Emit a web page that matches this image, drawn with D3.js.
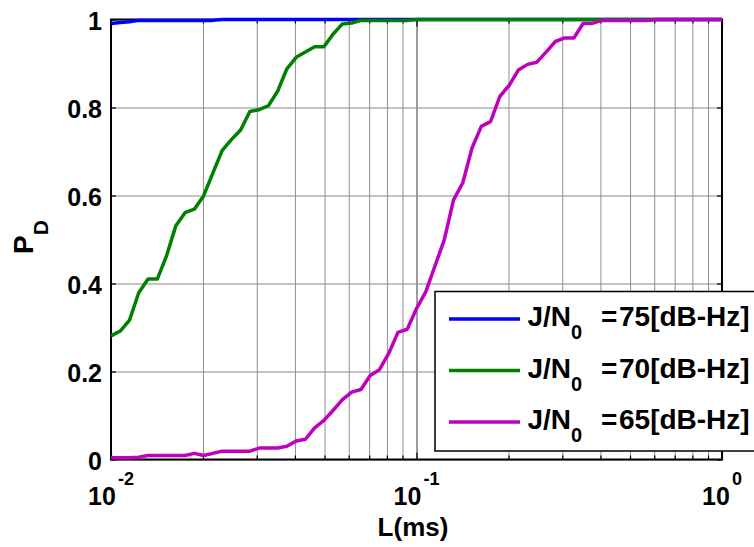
<!DOCTYPE html>
<html>
<head>
<meta charset="utf-8">
<script src="https://cdn.jsdelivr.net/npm/d3@7/dist/d3.min.js"></script>
<style>
  html, body { margin: 0; padding: 0; background: #fff; }
  svg { display: block; }
  text { font-family: "Liberation Sans", Arial, sans-serif; font-weight: bold; fill: #000; }
</style>
</head>
<body>
<svg id="chart" width="754" height="547"></svg>
<script>
// Integration length L (ms), log-spaced samples
const L = [
  0.01, 0.010723, 0.011498, 0.012328, 0.013219, 0.014175, 0.015199, 0.016298, 0.017475, 0.018738,
  0.020092, 0.021544, 0.023101, 0.024771, 0.026561, 0.02848, 0.030539, 0.032745, 0.035112, 0.037649,
  0.04037, 0.043288, 0.046416, 0.04977, 0.053367, 0.057224, 0.061359, 0.065793, 0.070548, 0.075646,
  0.081113, 0.086975, 0.09326, 0.1, 0.10723, 0.11498, 0.12328, 0.13219, 0.14175, 0.15199,
  0.16298, 0.17475, 0.18738, 0.20092, 0.21544, 0.23101, 0.24771, 0.26561, 0.2848, 0.30539,
  0.32745, 0.35112, 0.37649, 0.4037, 0.43288, 0.46416, 0.4977, 0.53367, 0.57224, 0.61359,
  0.65793, 0.70548, 0.75646, 0.81113, 0.86975, 0.9326, 1
];

// Detection probability for each jammer-to-noise density ratio
const pd75 = [
  0.991, 0.993, 0.995, 0.998, 0.998, 0.998, 0.998, 0.998, 0.998, 0.998,
  0.998, 0.998, 1, 1, 1, 1, 1, 1, 1, 1,
  1, 1, 1, 1, 1, 1, 1, 1, 1, 1,
  1, 1, 1, 1, 1, 1, 1, 1, 1, 1,
  1, 1, 1, 1, 1, 1, 1, 1, 1, 1,
  1, 1, 1, 1, 1, 1, 1, 1, 1, 1,
  1, 1, 1, 1, 1, 1, 1
];
const pd70 = [
  0.281, 0.292, 0.317, 0.379, 0.410, 0.410, 0.463, 0.531, 0.561, 0.569,
  0.599, 0.651, 0.702, 0.727, 0.749, 0.791, 0.795, 0.804, 0.837, 0.888,
  0.914, 0.926, 0.938, 0.938, 0.967, 0.990, 0.992, 0.998, 0.998, 0.998,
  0.998, 0.998, 0.998, 1, 1, 1, 1, 1, 1, 1,
  1, 1, 1, 1, 1, 1, 1, 1, 1, 1,
  1, 1, 1, 1, 1, 1, 1, 1, 1, 1,
  1, 1, 1, 1, 1, 1, 1
];
const pd65 = [
  0.004, 0.004, 0.004, 0.005, 0.009, 0.009, 0.009, 0.009, 0.009, 0.014,
  0.009, 0.014, 0.019, 0.019, 0.019, 0.019, 0.026, 0.026, 0.026, 0.030,
  0.042, 0.046, 0.072, 0.089, 0.112, 0.136, 0.153, 0.159, 0.191, 0.204,
  0.241, 0.289, 0.296, 0.343, 0.381, 0.440, 0.499, 0.590, 0.629, 0.708,
  0.757, 0.768, 0.825, 0.850, 0.885, 0.898, 0.903, 0.926, 0.950, 0.958,
  0.958, 0.991, 0.991, 0.998, 0.998, 0.998, 0.998, 0.998, 0.998, 1,
  1, 1, 1, 1, 1, 1, 1
];

const seriesNames = ["75", "70", "65"];
const seriesColors = ["#0000ff", "#008000", "#bf00bf"];
const seriesValues = [pd75, pd70, pd65];

// Axis ticks
const xMajor = [0.01, 0.1, 1];
const xMajorExp = ["-2", "-1", "0"];
const yTicks = [0, 0.2, 0.4, 0.6, 0.8, 1];
const yTickLabels = ["0", "0.2", "0.4", "0.6", "0.8", "1"];

const svg = d3.select("#chart");
const plotLeft = 111, plotRight = 722, plotTop = 19.5, plotBottom = 459.5;

const x = d3.scaleLog().domain([0.01, 1]).range([plotLeft, plotRight]);
const y = d3.scaleLinear().domain([0, 1]).range([plotBottom, plotTop]);

const xMinor = x.ticks().filter(v => !xMajor.some(m => Math.abs(m - v) < 1e-9));

// Grid lines
const grid = svg.append("g");
grid.append("g")
  .attr("transform", `translate(0,${plotBottom})`)
  .call(d3.axisBottom(x).tickValues(xMinor).tickSize(-(plotBottom - plotTop)).tickFormat(""))
  .call(g => g.select(".domain").remove())
  .call(g => g.selectAll("line").attr("stroke", "#8f8f8f").attr("stroke-width", 1));
grid.append("g")
  .attr("transform", `translate(0,${plotBottom})`)
  .call(d3.axisBottom(x).tickValues(xMajor).tickSize(-(plotBottom - plotTop)).tickFormat(""))
  .call(g => g.select(".domain").remove())
  .call(g => g.selectAll("line").attr("stroke", "#3a3a3a").attr("stroke-width", 1));
grid.append("g")
  .attr("transform", `translate(${plotLeft},0)`)
  .call(d3.axisLeft(y).tickValues(yTicks).tickSize(-(plotRight - plotLeft)).tickFormat(""))
  .call(g => g.select(".domain").remove())
  .call(g => g.selectAll("line").attr("stroke", "#8a8a8a").attr("stroke-width", 1));

// Inward tick marks on all four sides
function ticks(axis, tx, ty) {
  svg.append("g")
    .attr("transform", `translate(${tx},${ty})`)
    .call(axis.tickFormat(""))
    .call(g => g.select(".domain").remove())
    .call(g => g.selectAll("line").attr("stroke", "#000").attr("stroke-width", 1.2));
}
ticks(d3.axisBottom(x).tickValues(xMinor).tickSize(-4), 0, plotBottom);
ticks(d3.axisBottom(x).tickValues(xMajor).tickSize(-7), 0, plotBottom);
ticks(d3.axisTop(x).tickValues(xMinor).tickSize(-4), 0, plotTop);
ticks(d3.axisTop(x).tickValues(xMajor).tickSize(-7), 0, plotTop);
ticks(d3.axisLeft(y).tickValues(yTicks).tickSize(-5), plotLeft, 0);
ticks(d3.axisRight(y).tickValues(yTicks).tickSize(-5), plotRight, 0);

// Plot frame
svg.append("rect")
  .attr("x", plotLeft).attr("y", plotTop)
  .attr("width", plotRight - plotLeft).attr("height", plotBottom - plotTop)
  .attr("fill", "none").attr("stroke", "#000").attr("stroke-width", 2);

// Curves
const line = d3.line().x((d, i) => x(L[i])).y(d => y(d));
seriesValues.forEach((vals, s) => {
  svg.append("path")
    .datum(vals)
    .attr("d", line)
    .attr("fill", "none")
    .attr("stroke", seriesColors[s])
    .attr("stroke-width", 3.5)
    .attr("stroke-linejoin", "round");
});

// Y tick labels
svg.append("g").selectAll("text")
  .data(yTicks)
  .join("text")
  .attr("x", 102)
  .attr("y", d => y(d) + 10.5)
  .attr("text-anchor", "end")
  .attr("font-size", 25)
  .text((d, i) => yTickLabels[i]);

// X tick labels: powers of ten
const xl = svg.append("g").selectAll("text")
  .data(xMajor)
  .join("text")
  .attr("x", d => x(d))
  .attr("y", 505)
  .attr("text-anchor", "middle")
  .attr("font-size", 25);
xl.append("tspan").text("10");
xl.append("tspan").attr("font-size", 18).attr("dx", 2).attr("dy", -20).text((d, i) => xMajorExp[i]);

// Axis titles
svg.append("text")
  .attr("x", 413).attr("y", 536)
  .attr("text-anchor", "middle")
  .attr("font-size", 26)
  .text("L(ms)");

const yt = svg.append("text")
  .attr("transform", "translate(32.5,237) rotate(-90)")
  .attr("text-anchor", "middle")
  .attr("font-size", 28);
yt.append("tspan").text("P");
yt.append("tspan").attr("font-size", 21).attr("dy", 15).text("D");

// Legend
const lg = svg.append("g");
lg.append("rect")
  .attr("x", 435).attr("y", 291.5)
  .attr("width", 330).attr("height", 159.5)
  .attr("fill", "#fff").attr("stroke", "#000").attr("stroke-width", 1.5);
seriesNames.forEach((name, i) => {
  const base = 326 + i * 51.5;
  lg.append("line")
    .attr("x1", 449).attr("x2", 520)
    .attr("y1", base - 7).attr("y2", base - 7)
    .attr("stroke", seriesColors[i]).attr("stroke-width", 3.5);
  const t = lg.append("text").attr("y", base).attr("font-size", 28);
  t.append("tspan").attr("x", 527.5).text("J/N");
  t.append("tspan").attr("font-size", 20).attr("dy", 13).text("0");
  t.append("tspan").attr("x", 601).attr("dy", -13).text("=");
  t.append("tspan").attr("x", 619).text(name + "[dB-Hz]");
});
</script>
</body>
</html>
